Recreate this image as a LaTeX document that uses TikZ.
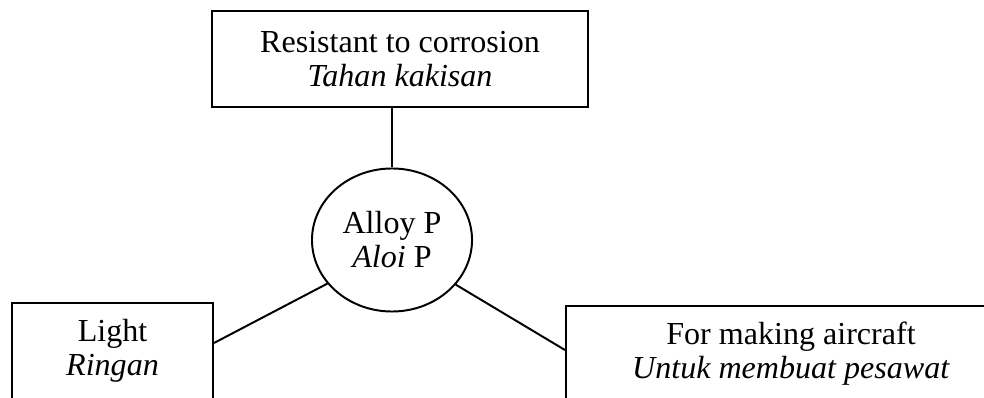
\documentclass[tikz,border=0pt]{standalone}
\usepackage{fontspec}
\setmainfont{Liberation Serif}
\usepackage{tikz}
\usetikzlibrary{shapes.geometric}

\begin{document}
\begin{tikzpicture}
[x=0.025cm,y=-0.025cm,line width=1.4pt,
 propbox/.style={draw,rectangle,minimum height=2.4cm,inner sep=0pt,align=center,font=\fontsize{22.8}{24.2}\selectfont},
 hub/.style={draw,ellipse,minimum width=4cm,minimum height=3.575cm,inner sep=0pt,align=center,font=\fontsize{22.8}{24.2}\selectfont}]
\useasboundingbox (0,0) rectangle (984,398);
\clip (0,0) rectangle (984,398);
\node (resist) at (400,59) [propbox,minimum width=9.375cm] {Resistant to corrosion\\\textit{Tahan kakisan}};
\node (alloy) at (392,240) [hub] {Alloy P\\\textit{Aloi} P};
\node (light) at (112.5,351) [propbox,minimum width=5.025cm] {Light\\\textit{Ringan}};
\node (aircraft) at (791,354) [propbox,minimum width=11.25cm] {For making aircraft\\\textit{Untuk membuat pesawat}};
\draw (alloy.north) -- (alloy.north |- resist.south);
\draw (alloy.214) -- ([yshift=0.2cm]light.east);
\draw (alloy.325) -- ([yshift=0.1cm]aircraft.west);
\end{tikzpicture}
\end{document}
